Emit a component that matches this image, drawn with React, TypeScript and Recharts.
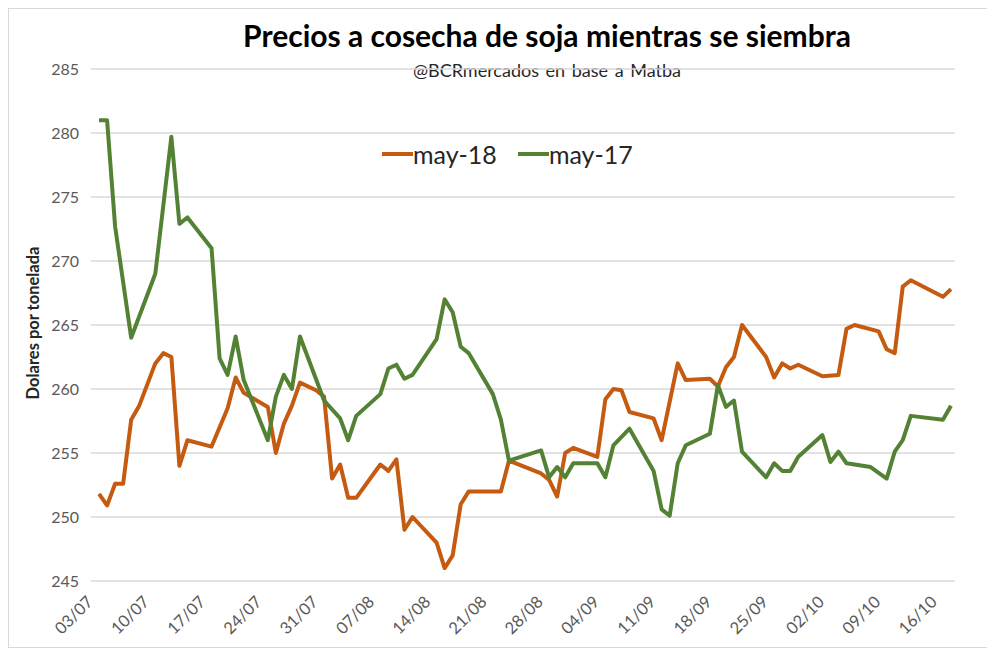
import React from 'react'
import { LineChart, Line, XAxis, YAxis, CartesianGrid } from 'recharts'

// Precios a cosecha de soja (U$S/t), Matba
const fechasMay18 = [
  '04/07', '05/07', '06/07', '07/07', '08/07', '09/07', '11/07', '12/07', '13/07', '14/07',
  '15/07', '18/07', '20/07', '21/07', '22/07', '25/07', '26/07', '27/07', '28/07', '29/07',
  '31/07', '01/08', '02/08', '03/08', '04/08', '05/08', '08/08', '09/08', '10/08', '11/08',
  '12/08', '15/08', '16/08', '17/08', '18/08', '19/08', '23/08', '24/08', '28/08', '29/08',
  '30/08', '31/08', '01/09', '04/09', '05/09', '06/09', '07/09', '08/09', '11/09', '12/09',
  '14/09', '15/09', '18/09', '19/09', '20/09', '21/09', '22/09', '25/09', '26/09', '27/09',
  '28/09', '29/09', '02/10', '04/10', '05/10', '06/10', '09/10', '10/10', '11/10', '12/10',
  '13/10', '17/10', '18/10',
]
const preciosMay18 = [
  251.8, 250.9, 252.6, 252.6, 257.6, 258.7, 262.0, 262.8, 262.5, 254.0,
  256.0, 255.5, 258.5, 260.9, 259.7, 258.6, 255.0, 257.3, 258.7, 260.5,
  259.9, 259.4, 253.0, 254.1, 251.5, 251.5, 254.1, 253.6, 254.5, 249.0,
  250.0, 248.0, 246.0, 247.0, 251.0, 252.0, 252.0, 254.4, 253.4, 252.9,
  251.6, 255.0, 255.4, 254.7, 259.2, 260.0, 259.9, 258.2, 257.7, 256.0,
  262.0, 260.7, 260.8, 260.2, 261.7, 262.5, 265.0, 262.5, 260.9, 262.0,
  261.6, 261.9, 261.0, 261.1, 264.7, 265.0, 264.5, 263.1, 262.8, 268.0,
  268.5, 267.2, 267.8,
]

const fechasMay17 = [
  '04/07', '05/07', '06/07', '08/07', '11/07', '13/07', '14/07', '15/07', '18/07', '19/07',
  '20/07', '21/07', '22/07', '25/07', '26/07', '27/07', '28/07', '29/07', '01/08', '03/08',
  '04/08', '05/08', '08/08', '09/08', '10/08', '11/08', '12/08', '15/08', '16/08', '17/08',
  '18/08', '19/08', '22/08', '23/08', '24/08', '28/08', '29/08', '30/08', '31/08', '01/09',
  '04/09', '05/09', '06/09', '08/09', '11/09', '12/09', '13/09', '14/09', '15/09', '18/09',
  '19/09', '20/09', '21/09', '22/09', '25/09', '26/09', '27/09', '28/09', '29/09', '02/10',
  '03/10', '04/10', '05/10', '08/10', '10/10', '11/10', '12/10', '13/10', '17/10', '18/10',
]
const preciosMay17 = [
  281.0, 281.0, 272.7, 264.0, 269.0, 279.7, 272.9, 273.4, 271.0, 262.4,
  261.1, 264.1, 260.7, 256.0, 259.4, 261.1, 260.0, 264.1, 259.1, 257.7,
  256.0, 257.9, 259.6, 261.6, 261.9, 260.8, 261.1, 263.9, 267.0, 266.0,
  263.3, 262.8, 259.6, 257.6, 254.4, 255.2, 253.1, 253.9, 253.1, 254.2,
  254.2, 253.1, 255.6, 256.9, 253.6, 250.6, 250.1, 254.2, 255.6, 256.5,
  260.3, 258.6, 259.1, 255.1, 253.1, 254.2, 253.6, 253.6, 254.7, 256.4,
  254.3, 255.1, 254.2, 253.9, 253.0, 255.1, 256.0, 257.9, 257.6, 258.7,
]

const etiquetasX = [
  '03/07', '10/07', '17/07', '24/07', '31/07', '07/08', '14/08', '21/08',
  '28/08', '04/09', '11/09', '18/09', '25/09', '02/10', '09/10', '16/10',
]
const ticksY = [245, 250, 255, 260, 265, 270, 275, 280, 285]

const NARANJA = '#C55A11'
const VERDE = '#548235'
const FUENTE = 'Lato, "Open Sans", sans-serif'

// días desde 03/07/2018
const diaDe = (f: string) => {
  const [d, m] = f.split('/').map(Number)
  return (Date.UTC(2018, m - 1, d) - Date.UTC(2018, 6, 3)) / 86400000
}

const serieMay18 = fechasMay18.map((f, i) => ({ dia: diaDe(f), precio: preciosMay18[i] }))
const serieMay17 = fechasMay17.map((f, i) => ({ dia: diaDe(f), precio: preciosMay17[i] }))
const ticksX = etiquetasX.map(diaDe)

const TickFecha = (props: any) => {
  const { x, y, payload } = props
  const i = ticksX.indexOf(payload.value)
  const tx = x + 3
  const ty = y + 20
  return (
    <text
      x={tx}
      y={ty}
      textAnchor="end"
      transform={`rotate(-45, ${tx}, ${ty})`}
      fill="#595959"
      fontSize={16.5}
      fontFamily={FUENTE}
    >
      {etiquetasX[i]}
    </text>
  )
}

export default function App() {
  return (
    <div
      style={{
        position: 'relative',
        width: 978,
        height: 638,
        border: '1px solid #d9d9d9',
        background: '#fff',
        fontFamily: FUENTE,
      }}
    >
      <div
        style={{
          position: 'absolute', left: 0, width: 976, top: 8, paddingLeft: 100,
          boxSizing: 'border-box', textAlign: 'center', fontSize: 30, fontWeight: 700, color: '#000',
        }}
      >
        Precios a cosecha de soja mientras se siembra
      </div>
      <div
        style={{
          position: 'absolute', left: 0, width: 976, top: 50, paddingLeft: 100,
          boxSizing: 'border-box', textAlign: 'center', fontSize: 18, color: '#262626',
          wordSpacing: 2,
        }}
      >
        @BCRmercados en base a Matba
      </div>

      <LineChart
        width={976}
        height={636}
        margin={{ top: 60, right: 30, left: 0, bottom: 14 }}
        style={{ fontFamily: FUENTE }}
      >
        <CartesianGrid horizontal vertical={false} stroke="#d9d9d9" strokeWidth={1.3} />
        <XAxis
          dataKey="dia"
          type="number"
          domain={[0, 107.5]}
          ticks={ticksX}
          interval={0}
          allowDuplicatedCategory={false}
          axisLine={false}
          tickLine={false}
          tickSize={0}
          height={50}
          tick={<TickFecha />}
        />
        <YAxis
          type="number"
          domain={[245, 285]}
          ticks={ticksY}
          interval={0}
          axisLine={false}
          tickLine={false}
          tickSize={0}
          tickMargin={12}
          width={82}
          tick={{ fill: '#595959', fontSize: 16, fontFamily: FUENTE }}
        />
        <Line
          data={serieMay18}
          dataKey="precio"
          type="linear"
          stroke={NARANJA}
          strokeWidth={4}
          strokeLinejoin="round"
          dot={false}
          isAnimationActive={false}
        />
        <Line
          data={serieMay17}
          dataKey="precio"
          type="linear"
          stroke={VERDE}
          strokeWidth={4}
          strokeLinejoin="round"
          dot={false}
          isAnimationActive={false}
        />
      </LineChart>

      <div
        style={{
          position: 'absolute', left: 24, top: 314, width: 0, height: 0,
        }}
      >
        <div
          style={{
            position: 'absolute', transform: 'translate(-50%, -50%) rotate(-90deg)',
            whiteSpace: 'nowrap', fontSize: 16.5, fontWeight: 700, color: '#262626',
          }}
        >
          Dolares por tonelada
        </div>
      </div>

      <div
        style={{
          position: 'absolute', left: 373, top: 130, display: 'flex', alignItems: 'center',
          fontSize: 25, color: '#262626',
        }}
      >
        <span style={{ display: 'inline-block', width: 31, height: 4, background: NARANJA }} />
        <span style={{ marginRight: 21 }}>may-18</span>
        <span style={{ display: 'inline-block', width: 31, height: 4, background: VERDE }} />
        <span>may-17</span>
      </div>
    </div>
  )
}
